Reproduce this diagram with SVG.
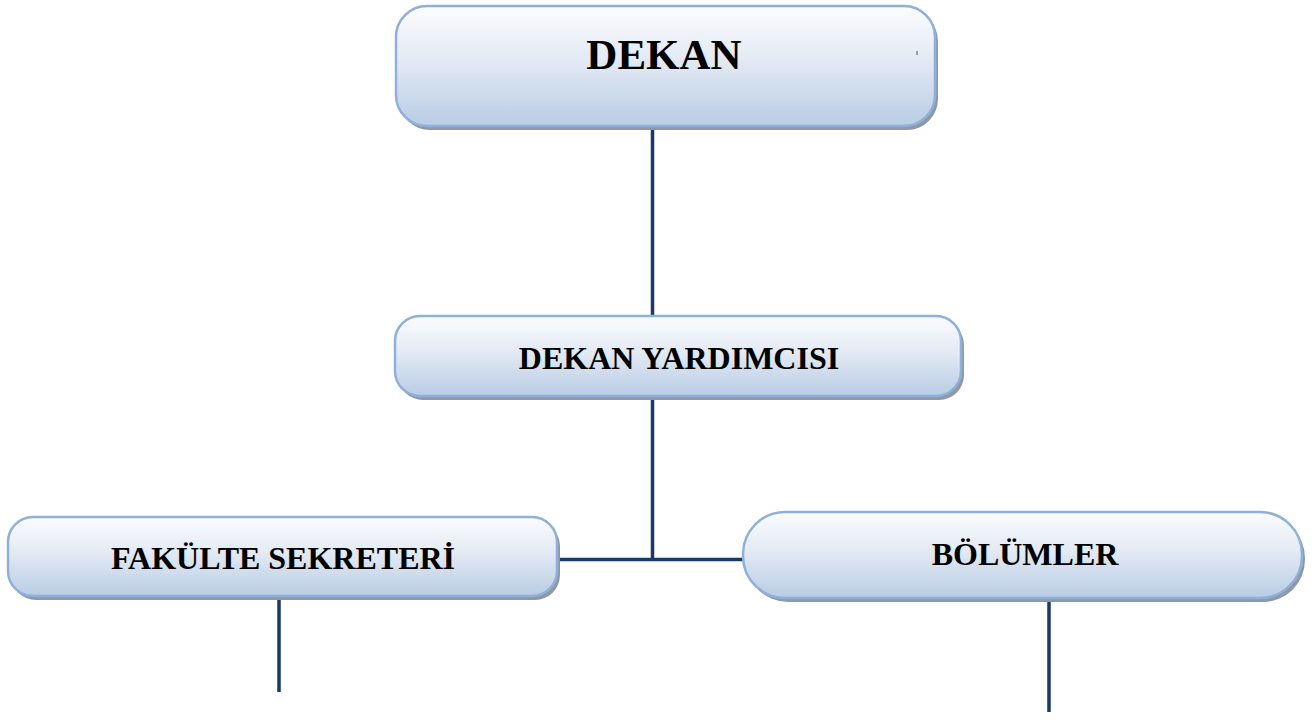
<svg xmlns="http://www.w3.org/2000/svg" width="1313" height="722" viewBox="0 0 1313 722">
  <defs>
    <linearGradient id="g" x1="0" y1="0" x2="0" y2="1">
      <stop offset="0" stop-color="#fbfcfe"/>
      <stop offset="0.45" stop-color="#e3eaf4"/>
      <stop offset="1" stop-color="#b8cce4"/>
    </linearGradient>
    <style>
      .sh { fill: #8e99a8; }
      .bx { fill: url(#g); stroke: #8fb0d8; stroke-width: 2.5; }
      .t { font-family: "Liberation Serif", "Times New Roman", serif; font-weight: bold; fill: #000; text-anchor: middle; }
      .c { stroke: #1a3a63; stroke-width: 3.5; fill: none; }
    </style>
  </defs>
  <rect width="1313" height="722" fill="#ffffff"/>
  <g id="connectors">
    <line class="c" x1="652.5" y1="126" x2="652.5" y2="316"/>
    <line class="c" x1="652.5" y1="396" x2="652.5" y2="560"/>
    <line class="c" x1="558" y1="559.5" x2="744" y2="559.5"/>
    <line class="c" x1="279" y1="596" x2="279" y2="692"/>
    <line class="c" x1="1049" y1="600" x2="1049" y2="712"/>
  </g>
  <g id="dekan">
    <rect class="sh" x="399" y="10" width="539" height="120" rx="31"/>
    <rect class="bx" x="396" y="6" width="539" height="120" rx="31"/>
    <line x1="917" y1="51" x2="917" y2="55" stroke="#555" stroke-width="1"/>
    <text class="t" x="664" y="69" font-size="43">DEKAN</text>
  </g>
  <g id="dekan-yardimcisi">
    <rect class="sh" x="398" y="320" width="566" height="80" rx="25"/>
    <rect class="bx" x="395" y="316" width="566" height="80" rx="25"/>
    <text class="t" x="679" y="369" font-size="32">DEKAN YARDIMCISI</text>
  </g>
  <g id="fakulte-sekreteri">
    <rect class="sh" x="11" y="521" width="549" height="79" rx="25"/>
    <rect class="bx" x="8" y="517" width="549" height="79" rx="25"/>
    <text class="t" x="283" y="569" font-size="32">FAKÜLTE SEKRETERİ</text>
  </g>
  <g id="bolumler">
    <rect class="sh" x="746" y="516" width="559" height="86" rx="42"/>
    <rect class="bx" x="743" y="512" width="559" height="86" rx="42"/>
    <text class="t" x="1025" y="565" font-size="32">BÖLÜMLER</text>
  </g>
</svg>
